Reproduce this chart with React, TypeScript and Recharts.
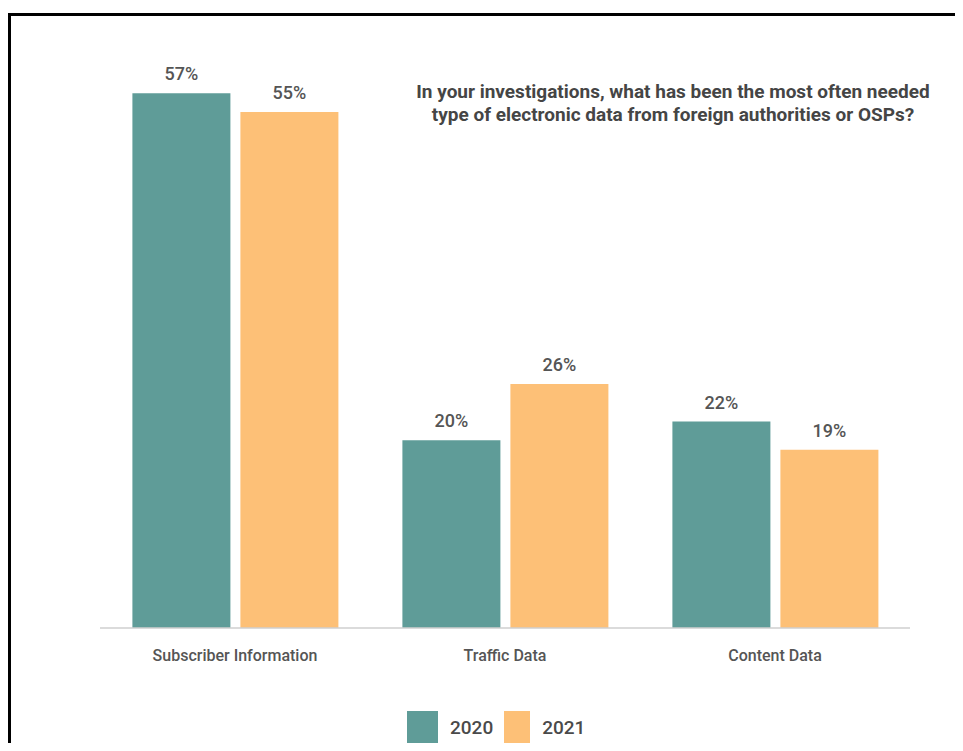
import { BarChart, Bar, XAxis, YAxis, LabelList } from 'recharts'

const categories = ['Subscriber Information', 'Traffic Data', 'Content Data']
const values2020 = [57, 20, 22]
const values2021 = [55, 26, 19]
const seriesNames = ['2020', '2021']

const TEAL = '#5f9c98'
const ORANGE = '#fdc077'
const FONT = 'Roboto, "Open Sans", sans-serif'

const data = categories.map((name, i) => ({
  name,
  y2020: values2020[i],
  y2021: values2021[i],
}))

// legend drawn as plain html so it doesn't eat into the plot height
function LegendBlock() {
  const items = [
    { label: seriesNames[0], color: TEAL, w: 31 },
    { label: seriesNames[1], color: ORANGE, w: 26 },
  ]
  return (
    <div
      style={{
        position: 'absolute',
        left: 396,
        top: 695,
        display: 'flex',
        alignItems: 'center',
        fontFamily: FONT,
      }}
    >
      {items.map((it) => (
        <div key={it.label} style={{ display: 'flex', alignItems: 'center', marginRight: 11 }}>
          <div style={{ width: it.w, height: 32, background: it.color, marginRight: 12 }} />
          <span style={{ fontSize: 19, color: '#4a4a4a', fontWeight: 500 }}>{it.label}</span>
        </div>
      ))}
    </div>
  )
}

const labelStyle = { fontSize: 18, fill: '#555', fontFamily: FONT, fontWeight: 500 }

export default function App() {
  return (
    <div style={{ paddingTop: 5 }}>
      <div
        style={{
          position: 'relative',
          width: 952,
          height: 727,
          borderTop: '3px solid #000',
          borderLeft: '3px solid #000',
          background: '#fff',
        }}
      >
        <div
          style={{
            position: 'absolute',
            left: 362,
            top: 64,
            width: 600,
            textAlign: 'center',
            fontFamily: FONT,
            fontWeight: 700,
            fontSize: 19,
            lineHeight: '23px',
            color: '#454545',
          }}
        >
          In your investigations, what has been the most often needed
          <br />
          type of electronic data from foreign authorities or OSPs?
        </div>
        <BarChart
          width={952}
          height={727}
          data={data}
          margin={{ top: 49, right: 53, bottom: 85, left: 89 }}
          barCategoryGap="12%"
          barGap={10}
        >
          <XAxis
            dataKey="name"
            axisLine={{ stroke: '#cfcfcf', strokeWidth: 1.5 }}
            tickLine={false}
            tickMargin={16}
            tick={{ fontSize: 16, fill: '#555', fontFamily: FONT, fontWeight: 500 }}
          />
          <YAxis hide domain={[0, 60]} />
          <Bar dataKey="y2020" name={seriesNames[0]} fill={TEAL} isAnimationActive={false}>
            <LabelList
              dataKey="y2020"
              position="top"
              offset={13}
              formatter={(v: number) => `${v}%`}
              style={labelStyle}
            />
          </Bar>
          <Bar dataKey="y2021" name={seriesNames[1]} fill={ORANGE} isAnimationActive={false}>
            <LabelList
              dataKey="y2021"
              position="top"
              offset={13}
              formatter={(v: number) => `${v}%`}
              style={labelStyle}
            />
          </Bar>
        </BarChart>
        <LegendBlock />
      </div>
    </div>
  )
}
